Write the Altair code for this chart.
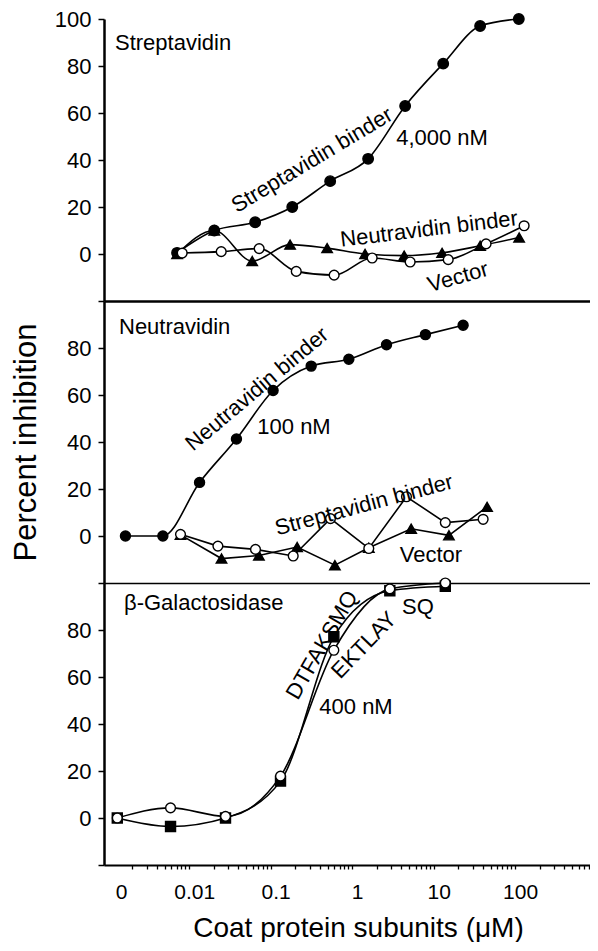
import altair as alt
import pandas as pd

FONT = "Liberation Sans"

# ---------------- data ----------------
# Panel 1: Streptavidin target
strep_sb_x = [0.0071, 0.0203, 0.0645, 0.184, 0.537, 1.57, 4.47, 13.1, 37.2, 111]
strep_sb_y = [0.5, 10, 13.5, 20, 31, 40.5, 63, 81, 97, 100]
strep_nb_x = [0.0071, 0.0203, 0.0593, 0.173, 0.493, 1.44, 4.35, 12.7, 37.2, 112]
strep_nb_y = [0, 10, -3, 4, 2.5, 0, -0.7, 0.5, 3.5, 7]
strep_vec_x = [0.0082, 0.0247, 0.0722, 0.206, 0.601, 1.76, 5.15, 15.1, 44, 129]
strep_vec_y = [0.4, 1, 2.3, -7.4, -9, -1.7, -3.4, -2.4, 4.3, 12]

# Panel 2: Neutravidin target
neut_nb_x = [0.00165, 0.00475, 0.0134, 0.038, 0.107, 0.314, 0.91, 2.64, 7.93, 23.0]
neut_nb_y = [0, 0, 22.8, 41.3, 61.9, 72.3, 75.2, 81.4, 85.7, 89.7]
neut_sb_x = [0.00782, 0.0225, 0.0651, 0.189, 0.542, 1.60, 4.64, 13.9, 40.5]
neut_sb_y = [0.7, -4.3, -5.7, -8.5, 7.4, -5.3, 16.7, 5.7, 7.1]
neut_vec_x = [0.00782, 0.0249, 0.0717, 0.211, 0.614, 1.60, 5.30, 15.4, 45.3]
neut_vec_y = [0.5, -9.6, -8.3, -4.7, -12.4, -5, 3.1, 0.3, 12.4]

# Panel 3: beta-Galactosidase target
gal_x = [0.00131, 0.0059, 0.0279, 0.132, 0.596, 2.90, 13.9]
gal_dt_y = [0, -3.6, 0, 15.7, 77.1, 96.7, 98.6]
gal_ek_y = [0, 4.3, 0.7, 17.8, 71.4, 97.5, 100]

# axis tick labels
x_tick_vals = [0.00127, 0.01, 0.1, 1, 10, 100]
x_tick_labels = ["0", "0.01", "0.1", "1", "10", "100"]
y_ticks_top = [-20, 0, 20, 40, 60, 80, 100]
y_ticks = [-20, 0, 20, 40, 60, 80]

minor_ticks = [d * 10.0 ** k for k in range(-3, 3) for d in range(1, 10)
               if 0.0015 < d * 10.0 ** k < 830]

# ---------------- helpers ----------------
W, H = 486, 282
xscale = alt.Scale(type="log", domain=[0.0009, 830], nice=False)
yscale = alt.Scale(domain=[-20, 100], nice=False, zero=False)


def make_df(series):
    rows = []
    for name, xs, ys in series:
        for xv, yv in zip(xs, ys):
            rows.append({"x": xv, "y": yv, "series": name})
    return pd.DataFrame(rows)


def y_axis(values, title=None):
    kw = dict(values=values, labelExpr="datum.value < 0 ? '' : datum.label",
              tickSize=6, tickWidth=1.5, domainWidth=2.5, labelFontSize=22,
              labelPadding=7, grid=False, labelFlush=False)
    if title:
        kw.update(title=title, titleFontSize=31, titlePadding=24,
                  titleFontWeight="normal")
    else:
        kw["title"] = None
    return alt.Axis(**kw)


def x_axis_plain(width):
    return alt.Axis(labels=False, ticks=False, title=None, domainWidth=width,
                    grid=False)


def text_layer(label, x, y, angle=0, size=22, align="center"):
    return alt.Chart(pd.DataFrame({"label": [label]})).mark_text(
        font=FONT, fontSize=size, angle=angle, align=align, baseline="middle",
        color="black"
    ).encode(x=alt.value(x), y=alt.value(y), text="label:N")


def line_layer(df, name, xax, yax, interp="monotone"):
    return alt.Chart(df).transform_filter(alt.datum.series == name).mark_line(
        color="black", strokeWidth=1.6, interpolate=interp
    ).encode(x=alt.X("x:Q", scale=xscale, axis=xax),
             y=alt.Y("y:Q", scale=yscale, axis=yax))


def point_layer(df, name, shape, fill, size, xax, yax):
    return alt.Chart(df).transform_filter(alt.datum.series == name).mark_point(
        shape=shape, filled=True, fill=fill, stroke="black", strokeWidth=1.4,
        size=size, opacity=1
    ).encode(x=alt.X("x:Q", scale=xscale, axis=xax),
             y=alt.Y("y:Q", scale=yscale, axis=yax))


# ---------------- panel 1 ----------------
df1 = make_df([("sb", strep_sb_x, strep_sb_y), ("nb", strep_nb_x, strep_nb_y),
               ("vec", strep_vec_x, strep_vec_y)])
xa1 = x_axis_plain(2.5)
ya1 = y_axis(y_ticks_top)
p1 = alt.layer(
    line_layer(df1, "sb", xa1, ya1),
    line_layer(df1, "nb", xa1, ya1),
    line_layer(df1, "vec", xa1, ya1),
    point_layer(df1, "sb", "circle", "black", 110, xa1, ya1),
    point_layer(df1, "nb", "triangle-up", "black", 110, xa1, ya1),
    point_layer(df1, "vec", "circle", "white", 95, xa1, ya1),
    text_layer("Streptavidin", 11, 24, align="left"),
    text_layer("Streptavidin binder", 208, 141, angle=329),
    text_layer("4,000 nM", 338, 119),
    text_layer("Neutravidin binder", 325, 210, angle=353),
    text_layer("Vector", 354, 258, angle=344),
).properties(width=W, height=H)

# ---------------- panel 2 ----------------
df2 = make_df([("nb", neut_nb_x, neut_nb_y), ("vec", neut_vec_x, neut_vec_y),
               ("sb", neut_sb_x, neut_sb_y)])
xa2 = x_axis_plain(1.5)
ya2 = y_axis(y_ticks, "Percent inhibition")
p2 = alt.layer(
    line_layer(df2, "nb", xa2, ya2),
    line_layer(df2, "vec", xa2, ya2, "linear"),
    line_layer(df2, "sb", xa2, ya2, "linear"),
    point_layer(df2, "nb", "circle", "black", 100, xa2, ya2),
    point_layer(df2, "vec", "triangle-up", "black", 110, xa2, ya2),
    point_layer(df2, "sb", "circle", "white", 95, xa2, ya2),
    text_layer("Neutravidin", 15, 26, align="left"),
    text_layer("Neutravidin binder", 153, 88, angle=320),
    text_layer("100 nM", 190, 126),
    text_layer("Streptavidin binder", 260, 204, angle=345),
    text_layer("Vector", 327, 254),
).properties(width=W, height=H)

# ---------------- panel 3 ----------------
df3 = make_df([("ek", gal_x, gal_ek_y), ("dt", gal_x, gal_dt_y)])
label_expr = "%s[indexof(%s, datum.value)]" % (str(x_tick_labels), str(x_tick_vals))
xa3 = alt.Axis(orient="bottom", values=x_tick_vals, labelExpr=label_expr,
               ticks=False, tickSize=0, labelPadding=16, labelFontSize=21,
               labelOffset=5, domainWidth=2, grid=False,
               title="Coat protein subunits (μM)",
               titleFontSize=28, titleFontWeight="normal", titlePadding=12,
               titleX=254)
xa3_minor = alt.Axis(orient="bottom", values=minor_ticks, labels=False,
                     tickSize=4, tickWidth=1.3, domain=False, grid=False,
                     title=None)
ya3 = y_axis(y_ticks)
lines3 = alt.layer(
    line_layer(df3, "ek", xa3, ya3),
    line_layer(df3, "dt", xa3, ya3),
)
pts3 = alt.layer(
    point_layer(df3, "dt", "square", "black", 100, xa3_minor, ya3),
    point_layer(df3, "ek", "circle", "white", 95, xa3_minor, ya3),
)
p3 = alt.layer(
    lines3,
    pts3,
    text_layer("β-Galactosidase", 20, 20, align="left"),
    text_layer("DTFAKSMQ", 218, 62, angle=300),
    text_layer("EKTLAY", 260, 62, angle=314),
    text_layer("SQ", 314, 24),
    text_layer("400 nM", 252, 124),
).resolve_axis(x="independent").properties(width=W, height=H)

chart = alt.vconcat(p1, p2, p3, spacing=0, bounds="flush").properties(
    padding={"left": 2, "top": 0, "right": 0, "bottom": 0}
).configure_view(stroke=None).configure_axis(
    labelFont=FONT, titleFont=FONT, labelColor="black", titleColor="black",
    domainColor="black", tickColor="black"
)

chart.save("out.html", embed_options={"renderer": "svg", "actions": False})
